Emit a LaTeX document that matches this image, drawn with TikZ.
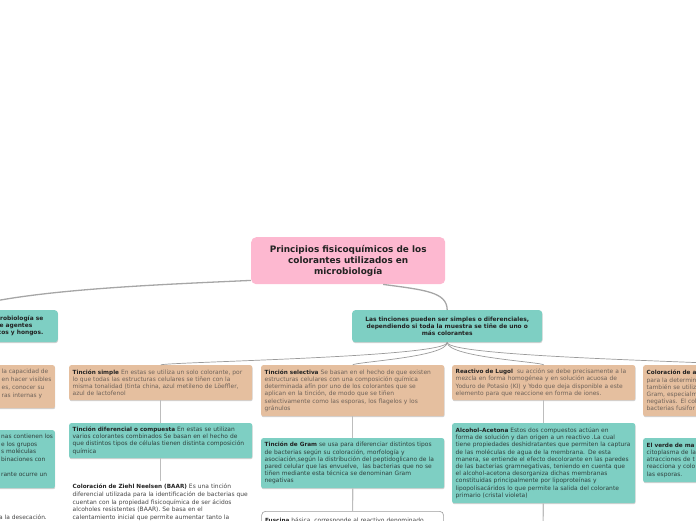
\documentclass[tikz,border=0pt]{standalone}
\usepackage{fontspec}
\setmainfont{DejaVu Sans}
\usetikzlibrary{shadows}
\definecolor{pinkc}{HTML}{FDB8D0}
\definecolor{tealc}{HTML}{7ECFC3}
\definecolor{tanc}{HTML}{E5BF9F}
\definecolor{linec}{HTML}{A6A6A6}
\definecolor{fanc}{HTML}{9A9A9A}
\definecolor{vlinec}{HTML}{BDBDBD}
\definecolor{ttlc}{HTML}{222222}
\definecolor{bodytan}{HTML}{6E6259}
\definecolor{bodyteal}{HTML}{2F3F3C}
\definecolor{bodyplain}{HTML}{444444}
\definecolor{framec}{HTML}{9C9C9C}
\newcommand\ttl[1]{{\bfseries\fontsize{5.7}{7.2}\selectfont\color{ttlc}#1}}
\tikzset{
  card/.style={anchor=north west, rounded corners=2pt, inner xsep=3.5pt, inner ysep=3pt,
    align=left, text width=176pt, font=\fontsize{5.95}{7.2}\selectfont,
    drop shadow={shadow xshift=0.4pt, shadow yshift=-1pt, fill=black, opacity=0.18}},
  tancard/.style={card, fill=tanc, text=bodytan},
  tealcard/.style={card, fill=tealc, text=bodyteal},
  plaincard/.style={anchor=north west, inner xsep=3.5pt, inner ysep=0pt, align=left,
    text width=176pt, font=\fontsize{5.95}{7.6}\selectfont, text=bodyplain},
  framecard/.style={anchor=north west, rounded corners=4pt, inner xsep=3.5pt, inner ysep=2.5pt,
    align=left, text width=175pt, font=\fontsize{5.95}{7.2}\selectfont, text=bodyplain,
    fill=white, draw=framec, line width=0.6pt},
  frag/.style={inner sep=0pt, align=left, font=\fontsize{5.9}{8}\selectfont},
  headbox/.style={anchor=north west, rounded corners=3pt, fill=tealc, align=center,
    font=\bfseries\fontsize{5.9}{7}\selectfont, text=ttlc,
    drop shadow={shadow xshift=0.4pt, shadow yshift=-1pt, fill=black, opacity=0.18}},
  rootlink/.style={draw=linec, line width=1.3pt},
  fan/.style={draw=fanc, line width=0.7pt},
  vlink/.style={draw=vlinec, line width=1.2pt},
}
\begin{document}
\begin{tikzpicture}[x=1pt,y=-1pt]
\useasboundingbox (0,0) rectangle (696,520);

% root
\node[anchor=north west, rounded corners=5pt, fill=pinkc, minimum width=194pt, minimum height=47pt,
  align=center, font=\bfseries\fontsize{8.9}{11}\selectfont, text=ttlc] (root) at (251,237)
  {Principios fisicoquímicos de los\\colorantes utilizados en\\microbiología};

% first level
\node[headbox, anchor=north east, minimum width=200pt, minimum height=32pt] (lvl1) at (58,310) {};
\node[frag, anchor=north east, align=right, font=\bfseries\fontsize{5.9}{7}\selectfont, text=ttlc] (lvl1t) at (43.5,315.5)
  {robiología se\\e agentes\rule{11pt}{0pt}\\tos y hongos.};
\node[headbox, minimum width=190pt, minimum height=32pt] (tin) at (352,310)
  {Las tinciones pueden ser simples o diferenciales,\\dependiendo si toda la muestra se tiñe de uno o\\más colorantes};

% left cropped column
\node[card, fill=tanc, anchor=north east, text width=110pt, minimum height=43pt] (ltan) at (55,365) {};
\node[frag, anchor=north west, text=bodytan] (ltant) at (1.5,369)
  {la capacidad de\\en hacer visibles\\es, conocer su\\ras internas y};
\node[card, fill=tealc, anchor=north east, text width=110pt, minimum height=58pt] (lteal) at (55,430) {};
\node[frag, anchor=north west, text=bodyteal, font=\fontsize{5.9}{7.6}\selectfont] (ltealt) at (1,434)
  {nas contienen los\\e los grupos\\s moléculas\\binaciones con\\[7.6pt]rante ocurre un};
\node[frag, anchor=north west, text=bodyplain] (dese) at (-1,515) {a la desecación.};

% column 1
\node[tancard, minimum height=35pt] (simple) at (69,365)
  {\ttl{Tinción simple} En estas se utiliza un solo colorante, por\\
   lo que todas las estructuras celulares se tiñen con la\\
   misma tonalidad (tinta china, azul metileno de Löeffler,\\
   azul de lactofenol};
\node[tealcard, minimum height=35pt] (dif) at (69,423)
  {\ttl{Tinción diferencial o compuesta} En estas se utilizan\\
   varios colorantes combinados Se basan en el hecho de\\
   que distintos tipos de células tienen distinta composición\\
   química};
\node[plaincard] (ziehl) at (69,484)
  {\ttl{Coloración de Ziehl Neelsen (BAAR)} Es una tinción\\
   diferencial utilizada para la identificación de bacterias que\\
   cuentan con la propiedad fisicoquímica de ser ácidos\\
   alcoholes resistentes (BAAR). Se basa en el\\
   calentamiento inicial que permite aumentar tanto la};

% column 2
\node[tancard, minimum height=51pt] (sel) at (261,365)
  {\ttl{Tinción selectiva} Se basan en el hecho de que existen\\
   estructuras celulares con una composición química\\
   determinada afín por uno de los colorantes que se\\
   aplican en la tinción, de modo que se tiñen\\
   selectivamente como las esporas, los flagelos y los\\
   gránulos};
\node[tealcard, minimum height=50pt] (gram) at (261,438)
  {\ttl{Tinción de Gram} se usa para diferenciar distintos tipos\\
   de bacterias según su coloración, morfología y\\
   asociación,según la distribución del peptidoglicano de la\\
   pared celular que las envuelve,\ \ las bacterias que no se\\
   tiñen mediante esta técnica se denominan Gram\\
   negativas};
\node[framecard, minimum height=40pt, align=left] (fus) at (261.3,511)
  {\ttl{Fuscina} básica, corresponde al reactivo denominado\\ \mbox{}\\ \mbox{}\\ \mbox{}};

% column 3
\node[tancard, minimum height=35pt] (lugol) at (452,365)
  {\ttl{Reactivo de Lugol}\ \ su acción se debe precisamente a la\\
   mezcla en forma homogénea y en solución acuosa de\\
   Yoduro de Potasio (KI) y Yodo que deja disponible a este\\
   elemento para que reaccione en forma de iones.};
\node[tealcard, minimum height=80pt] (alc) at (452,423)
  {\ttl{Alcohol–Acetona} Estos dos compuestos actúan en\\
   forma de solución y dan origen a un reactivo .La cual\\
   tiene propiedades deshidratantes que permiten la captura\\
   de las moléculas de agua de la membrana. De esta\\
   manera, se entiende el efecto decolorante en las paredes\\
   de las bacterias gramnegativas, teniendo en cuenta que\\
   el alcohol-acetona desorganiza dichas membranas\\
   constituidas principalmente por lipoproteínas y\\
   lipopolisacáridos lo que permite la salida del colorante\\
   primario (cristal violeta)};
\coordinate (alcchild) at (543,530);

% column 4 (cropped)
\node[tancard, minimum height=51pt] (cola) at (643,365)
  {\ttl{Coloración de a}\\para la determin\\también se utiliz\\Gram, especialm\\negativas. El col\\bacterias fusifor};
\node[tealcard, minimum height=44pt] (verde) at (643,438)
  {\ttl{El verde de ma}\\citoplasma de la\\atracciones de t\\reacciona y colo\\las esporas.};

% connectors
\draw[rootlink] ([yshift=4pt]root.south west) .. controls (150,285) and (20,290) .. (lvl1.north);
\draw[rootlink] ([xshift=35pt]root.south) .. controls (425,290) and (447,292) .. (tin.north);
\draw[fan] (tin.south) .. controls +(0,15) and +(0,-3) .. (simple.north);
\draw[fan] (tin.south) .. controls +(0,15) and +(0,-3) .. (sel.north);
\draw[fan] (tin.south) .. controls +(0,15) and +(0,-3) .. (lugol.north);
\draw[fan] (tin.south) .. controls +(0,15) and +(0,-3) .. (cola.north);
\draw[vlink] (simple) -- (dif);
\draw[vlink] (dif.south) -- ([yshift=3pt]ziehl.north);
\draw[vlink] (sel) -- (gram);
\draw[vlink] (gram) -- (fus);
\draw[vlink] (lugol) -- (alc);
\draw[vlink] (alc) -- (alcchild);
\end{tikzpicture}
\end{document}
